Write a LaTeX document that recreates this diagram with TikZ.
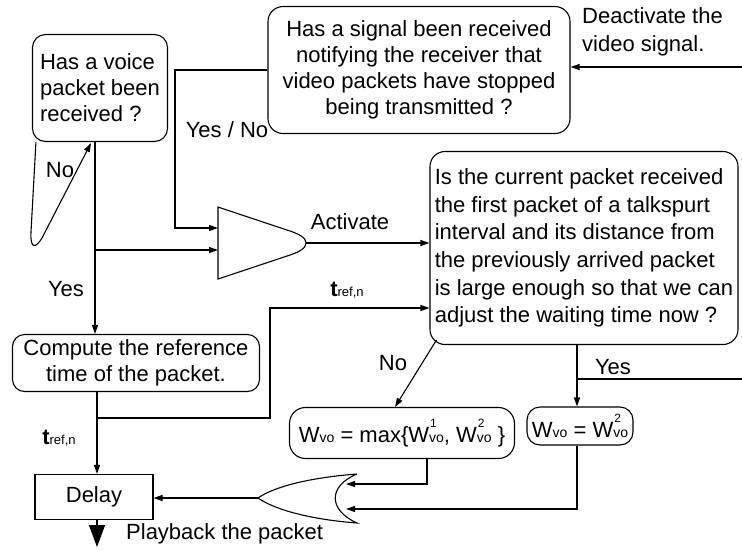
\documentclass[tikz,border=0pt]{standalone}
\usepackage{fontspec}
\setmainfont{Liberation Sans}
\usetikzlibrary{arrows.meta}

% W_vo with an optional index set above the "vo"
\newcommand\wsym[1]{W\makebox[0pt][l]{\hspace{1pt}\raisebox{15pt}{\fontsize{12}{12}\selectfont #1}}{\fontsize{14}{14}\selectfont vo}}
% reference time t_{ref,n}
\newcommand\tref{\textbf{t}{\fontsize{13}{13}\selectfont ref,n}}

\tikzset{
  flow/.style={line width=1.1pt},
  arr/.style={flow,-{Triangle[length=9pt,width=6pt]}},
  rbox/.style={draw,line width=1.1pt,rounded corners=13pt,inner sep=0pt},
  txt/.style={font=\fontsize{22}{26}\selectfont},
  lbl/.style={txt,inner sep=0pt},
}

\begin{document}
\begin{tikzpicture}[x=1pt,y=-1pt]
\useasboundingbox (0,0) rectangle (742,550);

% ---- boxes ----
\node[rbox,txt,align=left,minimum width=135pt,minimum height=107pt] (voice) at (100,88)
  {Has a voice\\packet been\\received ?};
\node[rbox,txt,align=center,minimum width=302pt,minimum height=127pt,rounded corners=15pt] (signal) at (419,70)
  {Has a signal been received\\notifying the receiver that\\video packets have stopped\\being transmitted ?};
\node[rbox,align=left,font=\fontsize{22}{27.6}\selectfont,minimum width=308pt,minimum height=193pt,rounded corners=15pt] (quest) at (584,248)
  {Is the current packet received\\the first packet of a talkspurt\\interval and its distance from\\the previously arrived packet\\is large enough so that we can\\adjust the waiting time now ?};
\node[rbox,txt,align=center,minimum width=247pt,minimum height=57pt,rounded corners=12pt] (comp) at (136,363)
  {Compute the reference\\time of the packet.};
\node[draw,flow,txt,minimum width=118pt,minimum height=45pt] (delay) at (94,497) {Delay};
\node[rbox,txt,minimum width=225pt,minimum height=51pt,rounded corners=16pt] (wmax) at (402,433)
  {\wsym{} = max\{\wsym{1}, \wsym{2} \}};
\node[rbox,txt,minimum width=106pt,minimum height=38pt,rounded corners=13pt] (wtwo) at (580,426)
  {\wsym{} = \wsym{2}};

% ---- gate that activates the talkspurt test ----
\coordinate (g1) at (218,228);
\coordinate (g2) at (218,250);
\coordinate (gout) at (306,243);
\draw[flow] (218,207) -- (218,279) -- (287,256)
  .. controls (300,252) and (306,248) .. (gout)
  .. controls (306,238) and (300,234) .. (287,230) -- cycle;

% ---- gate merging the two waiting times ----
\coordinate (ortip) at (258,498);
\coordinate (o1) at (346,484);
\coordinate (o2) at (346,509);
\draw[flow] (357,474) .. controls (305,478) and (272,488) .. (ortip)
  .. controls (272,508) and (305,519) .. (357,523)
  .. controls (328,510) and (328,486) .. (357,474);

% ---- connectors ----
\coordinate (sigturn) at (175,228);
\draw[arr] (signal.west) -| (sigturn) -- (g1);

\coordinate (yesfork) at (95,250);
\draw[flow] (voice.south -| yesfork) -- (yesfork);
\draw[arr] (yesfork) -- (comp.north -| yesfork);
\draw[arr] (yesfork) -- (g2);

\coordinate (loopbot) at (31,232);
\coordinate (loopend) at (91,143);
\draw[arr] ([xshift=4pt]voice.south west) -- (loopbot)
  .. controls +(-1,18) and +(-6,10) .. ([shift={(11,6)}]loopbot) -- (loopend);

\draw[arr] (gout) -- (quest.west |- gout);

\coordinate (tfork) at (97,418);
\coordinate (tup) at (270,308);
\draw[flow] (comp.south -| tfork) -- (tfork);
\draw[arr] (tfork) -- (delay.north -| tfork);
\draw[arr] (tfork) -| (tup) -- (quest.west |- tup);

\coordinate (deact) at (742,67);
\draw[arr] (deact) -- (signal.east |- deact);

\coordinate (noend) at (395,408);
\draw[arr] ([shift={(7,-5)}]quest.south west) -- (wmax.north -| noend);

\coordinate (yfork) at (577,379);
\coordinate (yright) at (742,379);
\draw[flow] (quest.south -| yfork) -- (yfork) -- (yright);
\draw[arr] (yfork) -- (wtwo.north -| yfork);

\coordinate (mturn) at (427,484);
\draw[arr] (wmax.south -| mturn) -- (mturn) -- (o1);
\coordinate (wturn) at (577,509);
\draw[arr] (wtwo.south -| wturn) -- (wturn) -- (o2);

\draw[arr] (ortip) -- (delay.east |- ortip);

\coordinate (pb) at (97,547);
\draw[line width=1.5pt,-{Triangle[length=22pt,width=16pt]}] (delay.south -| pb) -- (pb);

% ---- labels ----
\node[lbl] (lyesno) at (227,130) {Yes / No};
\node[lbl] (lno1) at (60,170) {No};
\node[lbl] (lyes1) at (66,289) {Yes};
\node[lbl] (lact) at (350,222) {Activate};
\node[lbl] (lt1) at (347,290) {\tref};
\node[lbl] (lt2) at (59,438) {\tref};
\node[lbl] (lno2) at (393,363) {No};
\node[lbl] (lyes2) at (613,367) {Yes};
\node[lbl,align=left,anchor=west,font=\fontsize{22}{28}\selectfont] (ldeact) at (582,32) {Deactivate the\\video signal.};
\node[lbl,anchor=west] (lplay) at (126,534) {Playback the packet};
\end{tikzpicture}
\end{document}
